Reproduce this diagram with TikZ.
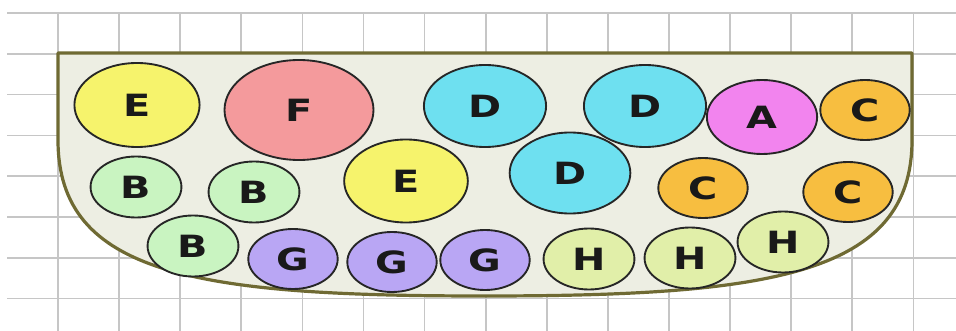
\documentclass[tikz,border=0pt]{standalone}
\usepackage{fontspec}
\setmainfont{Liberation Sans}
\newfontfamily\ballfont{DejaVu Sans}
\usepackage{graphicx}
\usetikzlibrary{shapes.geometric}
\definecolor{gridcolor}{HTML}{C6C6C6}
\definecolor{bowlfill}{HTML}{EDEEE3}
\definecolor{bowlline}{HTML}{6F6A33}
\definecolor{ecolor}{HTML}{F6F36C}
\definecolor{fcolor}{HTML}{F49A9C}
\definecolor{dcolor}{HTML}{6EE0F0}
\definecolor{acolor}{HTML}{F284EE}
\definecolor{ccolor}{HTML}{F7BE40}
\definecolor{bcolor}{HTML}{C9F4C1}
\definecolor{gcolor}{HTML}{B9A6F4}
\definecolor{hcolor}{HTML}{E1EFA9}
\newcommand{\wide}[1]{\scalebox{1.3}[1]{#1}}

\begin{document}
\begin{tikzpicture}[
    x=0.75pt, y=-0.75pt,
    gridline/.style={draw=gridcolor, line width=1.3pt},
    bowl/.style={draw=bowlline, fill=bowlfill, line width=2.4pt, line join=round},
    ball/.style={ellipse, draw=black!85, line width=1.4pt, inner sep=0pt,
        minimum height=#1*0.75pt, minimum width=#1*1.49*0.75pt,
        font=\ballfont\fontsize{23}{23}\selectfont\bfseries, text=black!90}
]
    \useasboundingbox (0,0) rectangle (956,331);

    % Squared paper
    \foreach \i in {0,...,7}
        \draw[gridline] (7, 13+40.8*\i) -- (956, 13+40.8*\i);
    \foreach \i in {0,...,14}
        \draw[gridline] (58+61.1*\i, 13) -- (58+61.1*\i, 331);

    % Bowl
    \draw[bowl] (58,53) -- (912,53) -- (912,140)
        .. controls (912,275) and (770,296) .. (484,296)
        .. controls (198,296) and (58,275) .. (58,140) -- cycle;

    % Top row
    \node[ball=84, fill=ecolor] (e1) at (137,105) {\wide{E}};
    \node[ball=100, fill=fcolor] (f) at (299,110) {\wide{F}};
    \node[ball=82, fill=dcolor] (d1) at (485,106) {\wide{D}};
    \node[ball=82, fill=dcolor] (d2) at (645,106) {\wide{D}};
    \node[ball=74, fill=acolor] (a) at (762,117) {\wide{A}};
    \node[ball=60, fill=ccolor] (c1) at (865,110) {\wide{C}};

    % Middle row
    \node[ball=61, fill=bcolor] (b1) at (136,187) {\wide{B}};
    \node[ball=61, fill=bcolor] (b2) at (254,192) {\wide{B}};
    \node[ball=83, fill=ecolor] (e2) at (406,181) {\wide{E}};
    \node[ball=81, fill=dcolor] (d3) at (570,173) {\wide{D}};
    \node[ball=60, fill=ccolor] (c2) at (703,188) {\wide{C}};
    \node[ball=60, fill=ccolor] (c3) at (848,192) {\wide{C}};

    % Bottom row
    \node[ball=61, fill=bcolor] (b3) at (193,246) {\wide{B}};
    \node[ball=60, fill=gcolor] (g1) at (293,259) {\wide{G}};
    \node[ball=60, fill=gcolor] (g2) at (392,262) {\wide{G}};
    \node[ball=60, fill=gcolor] (g3) at (485,260) {\wide{G}};
    \node[ball=61, fill=hcolor] (h1) at (589,259) {\wide{H}};
    \node[ball=61, fill=hcolor] (h2) at (690,258) {\wide{H}};
    \node[ball=61, fill=hcolor] (h3) at (783,242) {\wide{H}};
\end{tikzpicture}
\end{document}
